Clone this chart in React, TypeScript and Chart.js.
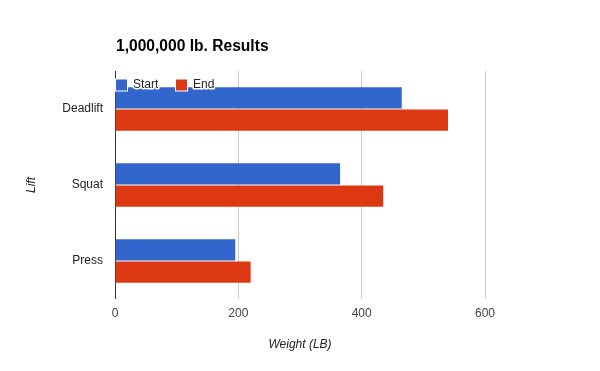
import React, { useEffect, useRef } from "react";
import { Chart, registerables } from "chart.js";

Chart.register(...registerables);

const categories = ["Deadlift", "Squat", "Press"];
const startValues = [465, 365, 195];
const endValues = [540, 435, 220];
const xTicks = [0, 200, 400, 600];
const titleText = "1,000,000 lb. Results";
const seriesNames = ["Start", "End"];
const seriesColors = ["#3366cc", "#dc3912"];

const FONT = "Arial, 'Liberation Sans', sans-serif";

const overlayPlugin = {
  id: "overlay",
  afterDraw(chart: any) {
    const { ctx, chartArea } = chart;
    ctx.save();
    // title
    ctx.font = `bold 15.6px ${FONT}`;
    ctx.fillStyle = "#000";
    ctx.textBaseline = "alphabetic";
    ctx.textAlign = "left";
    ctx.fillText(titleText, chartArea.left + 1, 51);
    // legend
    ctx.font = `12px ${FONT}`;
    ctx.textBaseline = "middle";
    let x = chartArea.left + 1;
    const y = 84.5;
    seriesNames.forEach((name, i) => {
      ctx.fillStyle = "#ffffff";
      ctx.fillRect(x - 1, y - 6, 13, 13);
      ctx.fillStyle = seriesColors[i];
      ctx.fillRect(x, y - 5, 11, 11);
      const tx = x + 17;
      ctx.lineWidth = 3;
      ctx.strokeStyle = "#ffffff";
      ctx.lineJoin = "round";
      ctx.strokeText(name, tx, y);
      ctx.fillStyle = "#222222";
      ctx.fillText(name, tx, y);
      x += 60;
    });
    ctx.restore();
  },
};

export default function App() {
  const canvasRef = useRef<HTMLCanvasElement | null>(null);

  useEffect(() => {
    document.body.style.margin = "0";
    const canvas = canvasRef.current;
    if (!canvas) return;
    const chart = new Chart(canvas, {
      type: "bar",
      data: {
        labels: categories,
        datasets: [
          {
            label: seriesNames[0],
            data: startValues,
            backgroundColor: seriesColors[0],
            barPercentage: 0.965,
            categoryPercentage: 0.585,
          },
          {
            label: seriesNames[1],
            data: endValues,
            backgroundColor: seriesColors[1],
            barPercentage: 0.965,
            categoryPercentage: 0.585,
          },
        ],
      },
      options: {
        indexAxis: "y",
        responsive: false,
        animation: false,
        layout: { padding: { top: 71, right: 115, left: 0, bottom: 0 } },
        plugins: {
          legend: { display: false },
          title: { display: false },
          tooltip: { enabled: false },
        },
        scales: {
          x: {
            min: 0,
            max: 600,
            afterBuildTicks: (scale: any) => {
              scale.ticks = xTicks.map((v) => ({ value: v }));
            },
            afterFit: (scale: any) => {
              scale.height = 72;
            },
            grid: {
              color: (c: any) => (c.tick && c.tick.value === 0 ? "#333333" : "#cccccc"),
              drawTicks: false,
            },
            border: { display: false },
            ticks: {
              padding: 7,
              color: "#444444",
              font: { family: FONT, size: 12 },
            },
            title: {
              display: true,
              text: "Weight (LB)",
              color: "#222222",
              font: { family: FONT, size: 12, style: "italic" },
              padding: { top: 0, bottom: 19 },
            },
          },
          y: {
            afterFit: (scale: any) => {
              scale.width = 115;
            },
            grid: { display: false, drawTicks: false },
            border: { display: false },
            ticks: {
              padding: 12,
              color: "#222222",
              font: { family: FONT, size: 12 },
            },
            title: {
              display: true,
              text: "Lift",
              color: "#222222",
              font: { family: FONT, size: 12, style: "italic" },
              padding: { top: 24, bottom: 0 },
            },
          },
        },
      },
      plugins: [overlayPlugin],
    } as any);
    return () => chart.destroy();
  }, []);

  return (
    <div style={{ width: 600, height: 371, background: "#fff" }}>
      <canvas ref={canvasRef} width={600} height={371} />
    </div>
  );
}
